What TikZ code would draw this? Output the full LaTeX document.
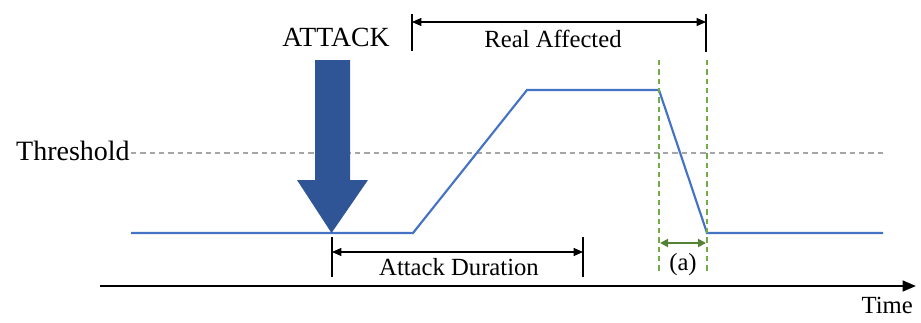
\documentclass[tikz,border=0pt]{standalone}
\usepackage{fontspec}
\setmainfont{Liberation Serif}
\usetikzlibrary{arrows.meta}
\definecolor{sigblue}{HTML}{4472C4}
\definecolor{arrowblue}{HTML}{2F5597}
\definecolor{dashgreen}{HTML}{70AD47}
\definecolor{arrgreen}{HTML}{548235}
\definecolor{thrgray}{HTML}{A6A6A6}
\tikzset{
  lbl/.style={inner sep=0pt, font=\fontsize{18.5}{20}\selectfont},
  dimline/.style={line width=0.8pt, {Triangle[length=7pt,width=6pt]}-{Triangle[length=7pt,width=6pt]}},
  tick/.style={line width=0.8pt},
  gdash/.style={dashgreen, line width=1pt, dash pattern=on 4pt off 3pt},
  signal/.style={sigblue, line width=1.6pt},
}
\begin{document}
\begin{tikzpicture}[x=0.75pt,y=-0.75pt]
\useasboundingbox (0,0) rectangle (921,322);
% time axis
\coordinate (ax0) at (100,286);
\coordinate (ax1) at (916,286);
\draw[line width=1.8pt,-{Triangle[length=10pt,width=8pt]}] (ax0) -- (ax1);
\node[lbl, anchor=north east] (time) at (913,297) {Time};
% threshold
\coordinate (th0) at (131,153);
\coordinate (th1) at (885,153);
\draw[thrgray, line width=0.8pt, dash pattern=on 4pt off 3pt] (th0) -- (th1);
\node[lbl, anchor=east, font=\fontsize{21}{23}\selectfont] (thr) at (130,151) {Threshold};
% signal
\coordinate (s0) at (131,233);
\coordinate (s1) at (413,233);
\coordinate (s2) at (527,90);
\coordinate (s3) at (659,90);
\coordinate (s4) at (707,233);
\coordinate (s5) at (883,233);
\draw[signal, line join=miter] (s0) -- (s1) -- (s2) -- (s3) -- (s4) -- (s5);
% big attack arrow
\fill[arrowblue] (315,60) -- (350,60) -- (350,180) -- (368,180) -- (331.5,233) -- (297,180) -- (315,180) -- cycle;
\node[lbl, font=\fontsize{20.8}{22}\selectfont] (attack) at (336,37) {ATTACK};
% real affected
\coordinate (ra0t) at (412,14);
\coordinate (ra0b) at (412,51);
\coordinate (ra1t) at (706,14);
\coordinate (ra1b) at (706,52);
\draw[tick] (ra0t) -- (ra0b);
\draw[tick] (ra1t) -- (ra1b);
\coordinate (raL) at (412,22);
\coordinate (raR) at (706,22);
\draw[dimline] (raL) -- (raR);
\node[lbl] (real) at (553,39) {Real Affected};
% green dashed
\coordinate (g0t) at (659,60);
\coordinate (g0b) at (659,273);
\coordinate (g1t) at (707,60);
\coordinate (g1b) at (707,273);
\draw[gdash] (g0t) -- (g0b);
\draw[gdash] (g1t) -- (g1b);
\coordinate (gaL) at (660,243);
\coordinate (gaR) at (706,243);
\draw[arrgreen, line width=1.4pt, {Triangle[length=6pt,width=6pt]}-{Triangle[length=6pt,width=6pt]}] (gaL) -- (gaR);
\node[lbl] (a) at (683,265) {(a)};
% attack duration
\coordinate (ad0t) at (332,237);
\coordinate (ad0b) at (332,277);
\coordinate (ad1t) at (583,237);
\coordinate (ad1b) at (583,277);
\draw[tick] (ad0t) -- (ad0b);
\draw[tick] (ad1t) -- (ad1b);
\coordinate (adL) at (332,252);
\coordinate (adR) at (583,252);
\draw[dimline] (adL) -- (adR);
\node[lbl] (dur) at (459,267) {Attack Duration};
\end{tikzpicture}
\end{document}
